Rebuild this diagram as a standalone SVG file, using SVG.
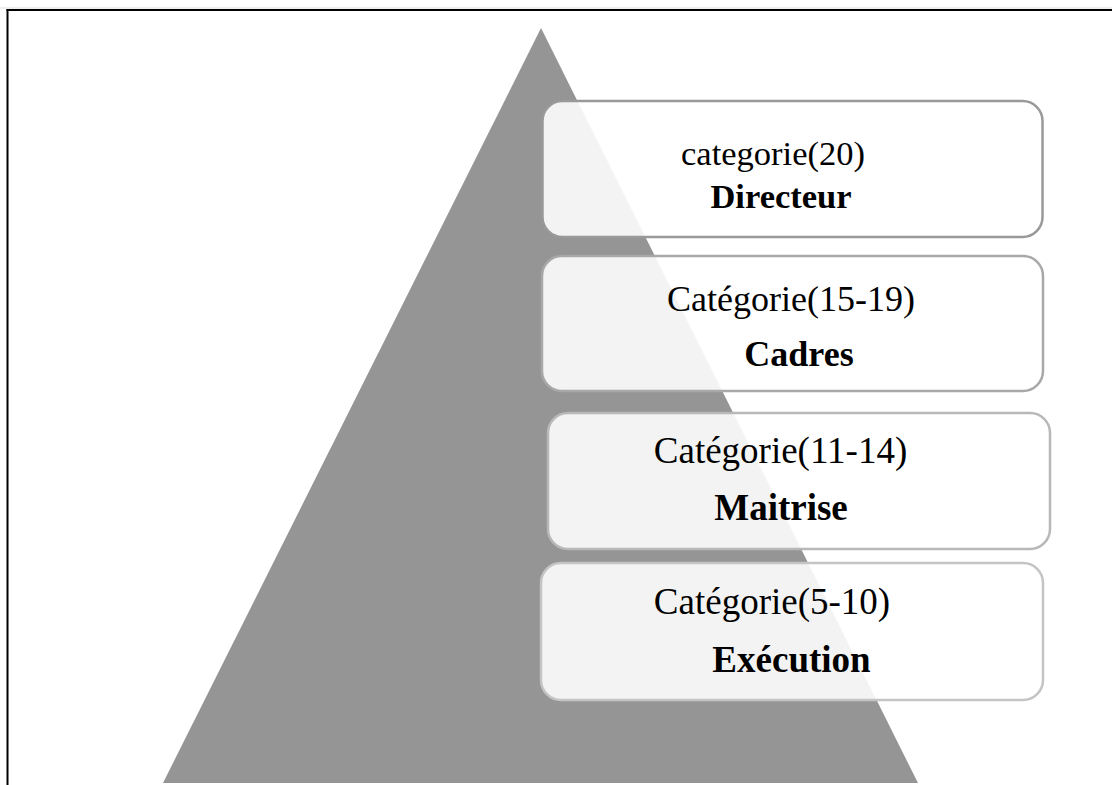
<svg xmlns="http://www.w3.org/2000/svg" width="1112" height="785" viewBox="0 0 1112 785">
<style>
.box{fill:#ffffff;fill-opacity:0.89;stroke-width:2.5}
.t{font-family:"Liberation Serif","Times New Roman",serif;fill:#000;text-anchor:middle}
.b{font-weight:bold}
</style>
<rect width="1112" height="785" fill="#ffffff"/>
<g id="frame">
<line x1="0" y1="8" x2="1112" y2="8" stroke="#dddddd" stroke-width="1"/>
<line x1="6.5" y1="10" x2="1112" y2="10" stroke="#000" stroke-width="2"/>
<line x1="7.5" y1="9" x2="7.5" y2="785" stroke="#000" stroke-width="2"/>
</g>
<g id="pyramid">
<polygon points="541,28 918,783 163,783" fill="#959595"/>
</g>
<g id="connectors"></g>
<g id="box-directeur">
<rect class="box" x="542.5" y="101" width="500" height="136" rx="20" stroke="#999999"/>
<text class="t" x="773" y="165" font-size="34.5">categorie(20)</text>
<text class="t b" x="781" y="208" font-size="34.5">Directeur</text>
</g>
<g id="box-cadres">
<rect class="box" x="542" y="256" width="501" height="135" rx="20" stroke="#a8a8a8"/>
<text class="t" x="791" y="311" font-size="36">Catégorie(15-19)</text>
<text class="t b" x="799" y="366" font-size="36">Cadres</text>
</g>
<g id="box-maitrise">
<rect class="box" x="548" y="413" width="502" height="136" rx="20" stroke="#b8b8b8"/>
<text class="t" x="780.5" y="463" font-size="37">Catégorie(11-14)</text>
<text class="t b" x="781" y="520" font-size="37">Maitrise</text>
</g>
<g id="box-execution">
<rect class="box" x="541" y="563" width="502" height="137" rx="20" stroke="#c4c4c4"/>
<text class="t" x="772" y="614" font-size="37">Catégorie(5-10)</text>
<text class="t b" x="791.5" y="672" font-size="37">Exécution</text>
</g>
</svg>
